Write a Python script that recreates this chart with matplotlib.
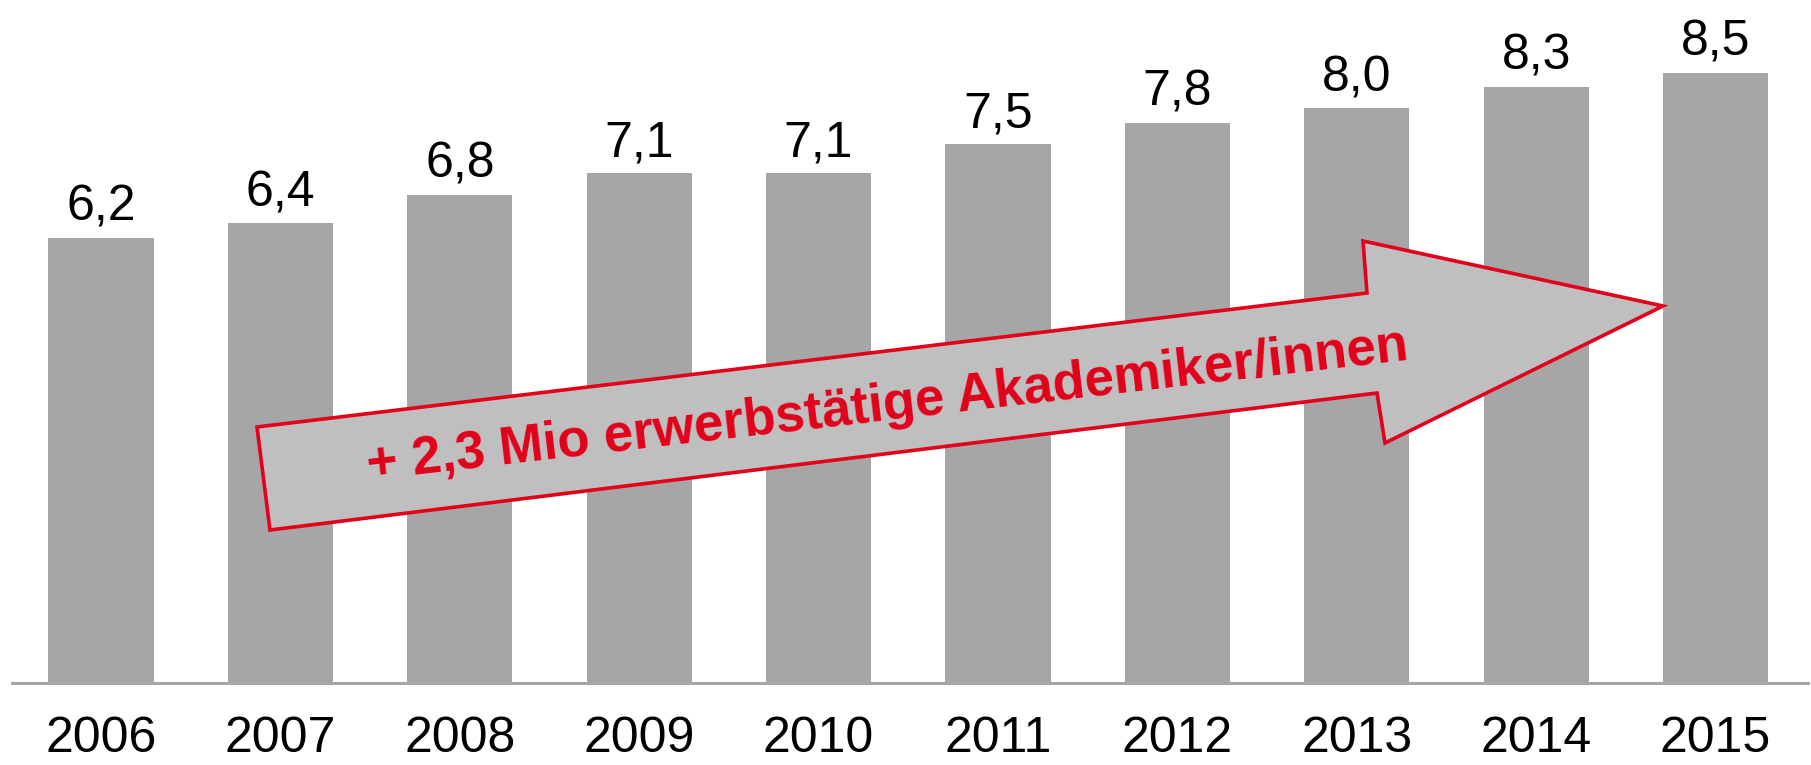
import matplotlib
matplotlib.use("Agg")
import matplotlib.pyplot as plt
from matplotlib.patches import Polygon

years = ["2006", "2007", "2008", "2009", "2010", "2011", "2012", "2013", "2014", "2015"]
values = [6.2, 6.4, 6.8, 7.1, 7.1, 7.5, 7.8, 8.0, 8.3, 8.5]
arrow_text = "+ 2,3 Mio erwerbstätige Akademiker/innen"

W, H = 1811, 765
fig = plt.figure(figsize=(W / 100, H / 100), dpi=100)
plt.rcParams['font.family'] = ['Liberation Sans', 'DejaVu Sans']

ax = fig.add_axes([11.5 / W, 1 - 683 / H, (1808 - 11.5) / W, 683 / H])
x = list(range(len(years)))
bars = ax.bar(x, values, width=0.586, color="#A6A6A6", zorder=2)
ax.set_xlim(-0.499, 9.515)
ax.set_ylim(0, 9.51)

for xi, v in zip(x, values):
    ax.annotate(f"{v:.1f}".replace(".", ","), (xi, v), xytext=(0, 5),
                textcoords="offset points", ha="center", va="bottom",
                fontsize=36, color="black")

ax.set_xticks(x)
ax.set_xticklabels(years, fontsize=36)
ax.tick_params(axis="x", length=0, pad=23.5)
ax.set_yticks([])
for s in ["top", "left", "right"]:
    ax.spines[s].set_visible(False)
ax.spines["bottom"].set_color("#A6A6A6")
ax.spines["bottom"].set_linewidth(2.2)
ax.spines["bottom"].set_zorder(3)

# Arrow annotation (figure pixel positions -> figure fraction)
pts_px = [(257, 427), (1367, 293), (1363, 241), (1663, 306),
          (1385, 443), (1377, 393), (270, 530)]
pts = [(px / W, 1 - py / H) for px, py in pts_px]
arrow = Polygon(pts, closed=True, facecolor="#BFBFBF", edgecolor="#E2001A",
                linewidth=2.6, joinstyle="miter", transform=fig.transFigure,
                zorder=5)
fig.patches.append(arrow)

fig.text(888 / W, 1 - 406 / H, arrow_text, fontsize=38, fontweight="bold",
         color="#E2001A", rotation=6.6, rotation_mode="anchor",
         ha="center", va="center", zorder=6)

fig.savefig("out.png", dpi=100)
